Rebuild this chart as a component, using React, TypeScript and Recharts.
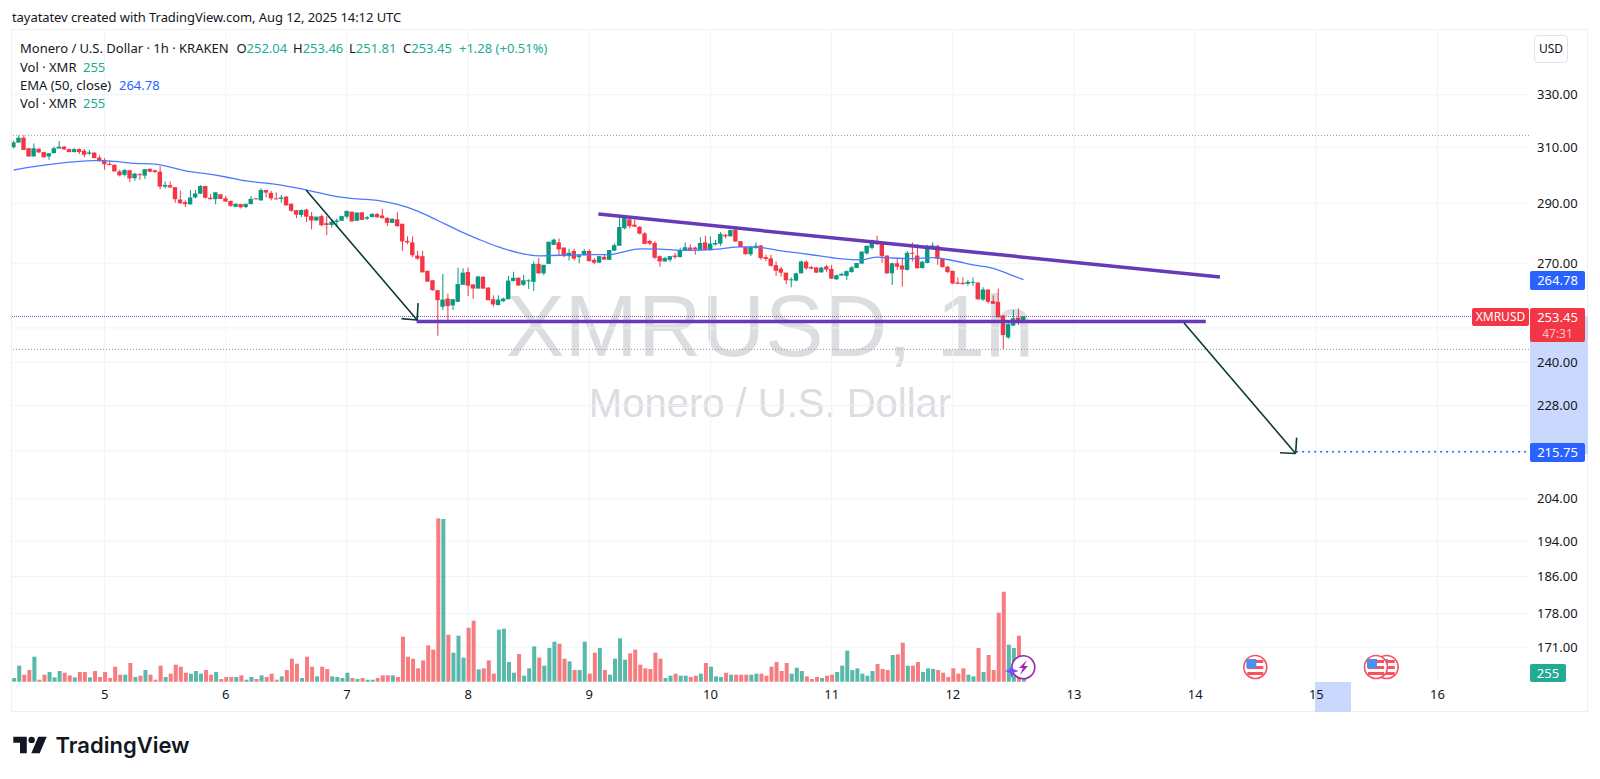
import React from "react";
import {
  Bar,
  CartesianGrid,
  ComposedChart,
  Line,
  ReferenceLine,
  XAxis,
  YAxis,
} from "recharts";

// hourly bars, first one is Aug 4 06:00 UTC
const opens = [
  310, 311.7, 313.5, 309.6, 306.6, 309.4, 308.2, 306.6, 307.8, 309.5,
  310.2, 309.3, 308.2, 309.3, 308.7, 307.6, 308, 306.2, 305.2, 303.9,
  303.6, 301.2, 300, 301.6, 298.8, 300.2, 299.7, 302.1, 301.6, 301.1,
  295.8, 296.3, 295.6, 291.3, 290.4, 289.6, 292, 293.3, 296, 291.9,
  291.4, 293.1, 291.7, 290.8, 288.8, 289.7, 288.7, 289.7, 291.7, 291,
  294.6, 293.6, 291.7, 291.5, 292.3, 289.8, 287.6, 286, 287.8, 285.6,
  284.1, 285.6, 283.2, 282.6, 283.6, 284, 285.4, 287.1, 284, 286.9,
  284.7, 285.3, 286.3, 285.8, 285, 283.3, 284.5, 283, 277.3, 276.8,
  272.5, 272.3, 267.6, 264.6, 261.5, 256.4, 258.9, 256.8, 257.9, 263.2,
  267.2, 263.3, 262, 265.7, 262.3, 258.7, 256.9, 258.1, 258.7, 264.4,
  265.4, 263.2, 264.4, 264.1, 269.8, 266.8, 269.8, 276, 276.8, 275.1,
  272.3, 274, 272, 272.6, 274, 271.1, 270.2, 272.1, 271.1, 274.1,
  275.7, 281.5, 284.5, 282.7, 282, 279.8, 277.3, 276.6, 272.3, 270.6,
  271.1, 272.5, 272, 274.3, 275.1, 275.1, 274.3, 276.8, 274.2, 276.1,
  276.4, 279.3, 278.8, 281, 277.2, 275.4, 272.9, 275.3, 275.8, 272,
  271.6, 269.4, 268.3, 267, 264.6, 264.5, 266.8, 270.5, 268.8, 268.7,
  267.1, 269, 268.2, 264.9, 266.1, 266, 267.2, 268.5, 269.9, 273.2,
  275, 277.3, 276.4, 272.5, 266.8, 270, 269.3, 267.9, 273.4, 272.5,
  268.5, 270.1, 275.4, 275.7, 271.5, 268.9, 267.6, 263.9, 263.8, 263.5,
  263.9, 263.9, 258.6, 261.7, 258.1, 257.9, 253.7, 247.2, 250.7, 253.1,
  252.04,
];
const highs = [
  312.4, 314.4, 314.4, 309.7, 311.4, 309.6, 308.2, 307.8, 310.2, 312.3,
  310.5, 309.5, 309.6, 309.6, 309.3, 309, 308.2, 307, 306, 305.2,
  303.6, 301.8, 302.1, 301.8, 300.6, 300.6, 302, 302.4, 301.8, 303,
  297.6, 297.6, 295.6, 294.4, 291, 294.6, 294.6, 296.3, 296.1, 293.2,
  293.8, 293.1, 292.5, 291, 290, 289.8, 289.8, 292.5, 291.7, 295.2,
  294.6, 294.3, 293.8, 292.9, 292.5, 290, 287.6, 287.8, 288.1, 287,
  285.4, 286.1, 285.6, 284.5, 284.8, 285.6, 287.4, 287.1, 286.8, 286.9,
  285.6, 286.7, 286.7, 288.1, 285.2, 284.8, 286.9, 283, 278.8, 278.8,
  274, 274, 267.6, 264.6, 261.5, 266.6, 260.4, 258.8, 268.6, 268.4,
  268.6, 263.4, 266, 265.8, 262.4, 259.9, 259.9, 259.2, 266, 267.3,
  265.5, 266.3, 264.9, 270.6, 271.7, 269.5, 277, 278.1, 278.1, 275.1,
  274.7, 274.7, 272.6, 274.7, 274.5, 271.7, 272.3, 272.7, 274.3, 276.4,
  285.3, 285.8, 284.7, 284.4, 282.2, 280.2, 277.7, 277.3, 272.5, 272,
  272.3, 273.4, 275.1, 276.8, 276.2, 275.4, 278.5, 279, 278.7, 277.6,
  280.2, 279.6, 280.9, 281.3, 277.2, 275.4, 275.7, 276.8, 275.9, 272.8,
  272.8, 270.6, 268.9, 267, 265.5, 267, 270.9, 270.9, 269.2, 268.7,
  268.9, 269.5, 269.5, 266.4, 267, 267.7, 269.2, 270.1, 273.8, 275.7,
  277.7, 279, 276.4, 272.5, 270.2, 271.7, 271.7, 274, 276.8, 276.2,
  270.8, 276, 276.8, 276, 271.7, 269.2, 267.6, 265.5, 265.5, 264.7,
  265.5, 263.9, 262.4, 261.7, 259.9, 262, 253.9, 251.4, 255.4, 255.9,
  253.46,
];
const lows = [
  309.5, 311.7, 309, 306.6, 306.6, 307.8, 306.3, 305.4, 307.8, 309.5,
  309, 308.2, 308.1, 307.5, 306.3, 307.2, 306, 304.8, 301.8, 303.4,
  301.2, 299.4, 299.4, 297.4, 297.9, 298.2, 298.5, 300.9, 300.6, 294.9,
  295.2, 295.4, 290.2, 289.8, 288.7, 289.6, 291.7, 293.2, 291.6, 291.3,
  289.6, 291.5, 290.5, 288.7, 288.7, 288.2, 288.3, 289.6, 291.4, 290.9,
  292, 291, 291.3, 290.2, 289.1, 287.1, 284.9, 285.3, 283.6, 281.1,
  284.1, 282.2, 279.2, 281.7, 282.2, 284, 284.7, 283.8, 284, 284.3,
  284.3, 285.1, 285.1, 284.8, 282.2, 283.3, 282, 274, 276.2, 272,
  271.1, 267.1, 264, 261.3, 247.7, 255.4, 252.4, 255.4, 257.9, 263.2,
  259.7, 258.8, 262, 262, 258.4, 256.4, 256.8, 257.9, 258.7, 264.2,
  262.8, 262.8, 261.9, 261.3, 266.6, 266.2, 269.8, 275.9, 272.3, 272,
  270.9, 270.9, 270, 272.5, 270.6, 269.7, 270.1, 271.1, 271.1, 274,
  275.7, 281.1, 281.5, 281.9, 279.4, 276.2, 275.9, 271.4, 268.9, 270.5,
  270.5, 271.4, 271.9, 274.3, 274.3, 272.8, 274.3, 274, 274.2, 275.8,
  275.7, 278.1, 278.8, 277, 275.1, 272.9, 272.3, 274.7, 271.1, 270.6,
  268.9, 266, 265.8, 263.4, 262.4, 264.3, 266.8, 267.9, 268.1, 267,
  267, 267.3, 265, 264.7, 266, 264.7, 267, 268.5, 269.9, 272.8,
  274.5, 276, 270.2, 266.6, 263.1, 267.9, 262.6, 267.7, 270.6, 268.4,
  268.3, 270, 274.5, 269.5, 268.6, 266.8, 263.4, 263.4, 263.2, 262.9,
  262.8, 258.4, 258.2, 257.4, 257.3, 253.1, 243.7, 246.8, 250.6, 250.9,
  251.81,
];
const closes = [
  311.8, 313.5, 309, 306.6, 309.6, 308.1, 306.3, 307.8, 309.6, 310.2,
  309.2, 308.2, 309.3, 308.2, 307.2, 308.1, 306, 304.8, 303.8, 303.5,
  301.2, 299.8, 301.7, 298.7, 300.4, 299.9, 302, 301.1, 301, 295.8,
  296.4, 295.5, 291.4, 290, 289.7, 292, 293.4, 296, 291.9, 291.4,
  293.8, 291.5, 290.6, 289.1, 289.8, 288.6, 289.8, 291.5, 291.4, 294.6,
  293.7, 291.7, 291.4, 292, 289.3, 287.4, 286.1, 287.7, 285.4, 284.1,
  285.4, 282.5, 282.6, 283.7, 284.1, 285.6, 287.4, 283.8, 286.8, 284.3,
  285.2, 286.3, 285.2, 284.9, 283.3, 284.7, 282.2, 277.1, 276.8, 272.6,
  271.5, 267.1, 264.2, 261.5, 258.4, 258.6, 256.6, 258.7, 263.4, 267,
  262.9, 262, 265.8, 262, 258.4, 257.1, 258.6, 258.9, 264.5, 265.4,
  263, 264.6, 264.6, 269.8, 266.8, 269.5, 277, 277.7, 274.5, 272.3,
  273.4, 271.5, 272.6, 274, 270.7, 270.2, 272.3, 271.2, 274.3, 275.9,
  281.9, 285.3, 282.2, 282, 279.7, 276.3, 276.4, 271.8, 270.6, 271.7,
  272.3, 272, 274.3, 275.2, 274.4, 274.6, 276.6, 274.3, 276.4, 276.6,
  279.6, 278.8, 280.9, 277.1, 275.3, 272.9, 275.4, 275.7, 271.7, 271.4,
  269.2, 267.6, 267, 264.6, 264.9, 266.8, 270.6, 268.4, 268.3, 267,
  268.6, 268, 265.1, 266.2, 266.6, 267.5, 268.7, 270.1, 273.8, 275.7,
  277.6, 276.2, 272.3, 266.8, 270, 268.9, 268, 273.4, 273.1, 268.4,
  270.5, 275.7, 275.8, 271.5, 268.8, 267.2, 263.6, 263.5, 263.4, 264.1,
  264.1, 258.7, 261.7, 257.9, 257.3, 253.2, 247.9, 251.2, 252.9, 252,
  253.45,
];
const volumes = [
  330, 1440, 630, 1050, 2250, 180, 630, 870, 390, 960,
  810, 570, 390, 870, 870, 390, 960, 420, 870, 330,
  1350, 630, 630, 1680, 420, 540, 1050, 630, 180, 1440,
  420, 720, 1530, 1350, 810, 720, 960, 720, 1050, 630,
  870, 240, 420, 420, 420, 570, 180, 420, 240, 570,
  420, 720, 180, 480, 1050, 2070, 1620, 330, 2250, 1350,
  480, 1350, 1140, 480, 420, 330, 810, 330, 240, 330,
  180, 180, 330, 570, 570, 570, 420, 4050, 2250, 2070,
  1200, 1920, 3270, 2880, 14700, 14640, 4230, 2610, 4140, 2160,
  4860, 5490, 1110, 1200, 1920, 720, 4680, 4770, 1770, 810,
  2490, 540, 1200, 3180, 2160, 1440, 3030, 3600, 3420, 2070,
  1830, 1050, 1050, 3600, 720, 2610, 3030, 1050, 630, 2070,
  3900, 1980, 2550, 2880, 1530, 1200, 1140, 2610, 2070, 330,
  540, 720, 540, 540, 420, 540, 720, 1680, 1350, 480,
  420, 810, 630, 630, 630, 630, 630, 720, 720, 540,
  1350, 1770, 960, 1680, 720, 1260, 960, 480, 240, 420,
  330, 540, 630, 870, 1440, 2790, 1050, 1200, 720, 540,
  960, 1590, 1140, 1050, 2400, 2460, 3510, 1440, 1440, 1770,
  870, 1200, 1140, 1050, 810, 420, 1200, 720, 1200, 630,
  480, 3030, 870, 2400, 1050, 6210, 8100, 3330, 3030, 4140,
  255,
];
const emaHours = [
  0, 4, 8, 13, 17, 20, 24, 28, 30, 34, 38, 42, 46, 50, 54, 58, 64, 68, 72, 76,
  80, 84, 88, 92, 96, 100, 104, 108, 114, 118, 120, 124, 128, 132, 136, 140,
  144, 148, 152, 156, 160, 164, 168, 171, 174, 178, 182, 186, 190, 194, 198, 200,
];
const emaValues = [
  301.7, 302.9, 303.9, 304.8, 305.2, 304.8, 304.1, 303.8, 303.2, 301.4, 300.4,
  299.2, 297.8, 297, 296, 294.6, 292.3, 291.5, 291, 289.6, 287.3, 284.1, 280.8,
  277.9, 275.3, 273.4, 272.4, 272.6, 272.8, 272.8, 273.4, 274.7, 274.6, 274.2,
  274.3, 274.7, 275.3, 275.1, 274, 273.2, 272.3, 271.4, 271.1, 272, 271.7,
  271.5, 271.8, 270.9, 269.5, 268.4, 266, 264.78,
];

const dayHours = [18, 42, 66, 90, 114, 138, 162, 186, 210, 234, 258, 282];
const dayLabels = ["5", "6", "7", "8", "9", "10", "11", "12", "13", "14", "15", "16"];
const priceTicks = [330, 310, 290, 270, 240, 228, 204, 194, 186, 178, 171];
const priceGrid = [330, 310, 290, 270, 250, 240, 228, 216, 204, 194, 186, 178, 171];

const bars = opens.map((o, i) => ({
  i,
  o,
  h: highs[i],
  l: lows[i],
  c: closes[i],
  v: volumes[i],
}));
const emaLine = emaHours.map((i, k) => ({ i, ema: emaValues[k] }));

const UP = "#089981";
const DOWN = "#f23645";
const FONT = "'Noto Sans', sans-serif";
const HOUR_DOMAIN: [number, number] = [-0.4, 300.12];
const PRICE_DOMAIN: [number, number] = [164.1, 356.7];

const candlePart = (props: any) => {
  const { x, y, width, height, payload } = props;
  return (
    <rect
      x={x}
      y={y}
      width={width}
      height={Math.max(height, 1)}
      fill={payload.c >= payload.o ? UP : DOWN}
    />
  );
};

const volumeBar = (props: any) => {
  const { x, y, width, height, payload } = props;
  return (
    <rect
      x={x}
      y={y}
      width={width}
      height={height}
      fill={payload.c >= payload.o ? "#58b8aa" : "#f67c7f"}
    />
  );
};

const box = (left: number, top: number, w: number, h: number, bg: string): React.CSSProperties => ({
  position: "absolute",
  left,
  top,
  width: w,
  height: h,
  background: bg,
  color: "#fff",
  fontFamily: FONT,
  fontSize: 13,
  lineHeight: `${h}px`,
  textAlign: "center",
  borderRadius: 2,
});

const legendText = (left: number, top: number, color: string): React.CSSProperties => ({
  position: "absolute",
  left,
  top: top - 9,
  color,
  fontFamily: FONT,
  fontSize: 13,
  lineHeight: "18px",
  whiteSpace: "nowrap",
});

const Flag = ({ cx, cy }: { cx: number; cy: number }) => (
  <g>
    <circle cx={cx} cy={cy} r={11.5} fill="#fff" stroke="#f7525f" strokeWidth={1.6} />
    <rect x={cx - 8} y={cy - 7} width={16} height={3} fill="#f7525f" />
    <rect x={cx - 8} y={cy - 1} width={16} height={3} fill="#f7525f" />
    <rect x={cx - 8} y={cy + 5} width={16} height={3} fill="#f7525f" />
    <rect x={cx - 9} y={cy - 8} width={10} height={9} fill="#4a90ee" />
  </g>
);

export default function App() {
  return (
    <div style={{ position: "absolute", left: 0, top: 0, width: 1600, height: 779, background: "#fff", overflow: "hidden" }}>
      <div style={{ ...legendText(12, 17, "#131722"), letterSpacing: -0.07 }}>
        tayatatev created with TradingView.com, Aug 12, 2025 14:12 UTC
      </div>
      <div style={{ position: "absolute", left: 11, top: 29, width: 1577, height: 683, border: "1px solid #eef0f5", boxSizing: "border-box" }} />
      {/* watermark */}
      <div style={{ position: "absolute", left: 470, width: 600, top: 276, textAlign: "center", fontFamily: "'Liberation Sans', sans-serif", fontSize: 88, lineHeight: "100px", color: "#dcdde0", whiteSpace: "nowrap" }}>
        XMRUSD, 1h
      </div>
      <div style={{ position: "absolute", left: 470, width: 600, top: 380, textAlign: "center", fontFamily: "'Liberation Sans', sans-serif", fontSize: 40, lineHeight: "46px", color: "#dcdde0", whiteSpace: "nowrap" }}>
        Monero / U.S. Dollar
      </div>
      {/* axis highlights sit under the chart so the labels stay on top */}
      <div style={{ position: "absolute", left: 1530, top: 316, width: 58, height: 138, background: "#c9d8fc" }} />
      <div style={{ position: "absolute", left: 1315, top: 682, width: 36, height: 30, background: "#c9d8fc" }} />

      <div style={{ position: "absolute", left: 0, top: 0 }}>
        <ComposedChart
          width={1600}
          height={779}
          data={bars}
          margin={{ top: 29.3, right: 12, bottom: 67.3, left: 11.7 }}
        >
          <CartesianGrid
            xAxisId="main"
            yAxisId="price"
            stroke="#f0f3fa"
            horizontalValues={priceGrid}
            verticalValues={dayHours}
          />
          <XAxis xAxisId="body" dataKey="i" type="number" domain={HOUR_DOMAIN} allowDataOverflow hide height={0} />
          <XAxis xAxisId="vol" dataKey="i" type="number" domain={HOUR_DOMAIN} allowDataOverflow hide height={0} />
          <XAxis
            xAxisId="main"
            dataKey="i"
            type="number"
            domain={HOUR_DOMAIN}
            allowDataOverflow
            ticks={dayHours}
            interval={0}
            height={30}
            axisLine={false}
            tickLine={false}
            tick={{ fill: "#131722", fontSize: 13, fontFamily: FONT }}
            tickFormatter={(v: number) => dayLabels[dayHours.indexOf(v)]}
          />
          <YAxis
            yAxisId="price"
            orientation="right"
            scale="log"
            domain={PRICE_DOMAIN}
            allowDataOverflow
            ticks={priceTicks}
            interval={0}
            width={59}
            axisLine={false}
            tickLine={false}
            tick={{ fill: "#131722", fontSize: 13, fontFamily: FONT }}
            tickFormatter={(v: number) => v.toFixed(2)}
          />
          <YAxis yAxisId="volume" orientation="left" domain={[0, 58716]} width={0} hide />

          <Bar
            xAxisId="vol"
            yAxisId="volume"
            dataKey="v"
            barSize={4}
            shape={volumeBar}
            isAnimationActive={false}
          />
          <Bar
            xAxisId="main"
            yAxisId="price"
            dataKey={(d: any) => [d.l, d.h]}
            barSize={1}
            shape={candlePart}
            isAnimationActive={false}
          />
          <Bar
            xAxisId="body"
            yAxisId="price"
            dataKey={(d: any) => [Math.min(d.o, d.c), Math.max(d.o, d.c)]}
            barSize={4.4}
            shape={candlePart}
            isAnimationActive={false}
          />
          <Line
            xAxisId="main"
            yAxisId="price"
            data={emaLine}
            dataKey="ema"
            type="monotone"
            stroke="#4a7bff"
            strokeWidth={1.3}
            dot={false}
            isAnimationActive={false}
          />

          {/* high / low / last price lines */}
          <ReferenceLine xAxisId="main" yAxisId="price" y={314.4} stroke="#9598a1" strokeDasharray="1 2" />
          <ReferenceLine xAxisId="main" yAxisId="price" y={243.7} stroke="#9598a1" strokeDasharray="1 2" />
          <ReferenceLine xAxisId="main" yAxisId="price" y={253.45} stroke="#2962ff" strokeDasharray="1 3" />
          <ReferenceLine xAxisId="main" yAxisId="price" y={253.45} stroke="#f23645" strokeDasharray="1 3" strokeDashoffset={2} />
          <ReferenceLine
            xAxisId="main"
            yAxisId="price"
            segment={[{ x: 254, y: 215.75 }, { x: 300.12, y: 215.75 }]}
            stroke="#2962ff"
            strokeWidth={1.5}
            strokeDasharray="2 4"
            ifOverflow="visible"
          />

          {/* drawn trend lines */}
          <ReferenceLine
            xAxisId="main"
            yAxisId="price"
            segment={[{ x: 115.8, y: 286.3 }, { x: 238.9, y: 265.6 }]}
            stroke="#673ab7"
            strokeWidth={3.5}
            ifOverflow="visible"
          />
          <ReferenceLine
            xAxisId="main"
            yAxisId="price"
            segment={[{ x: 79.8, y: 251.9 }, { x: 236.1, y: 251.9 }]}
            stroke="#673ab7"
            strokeWidth={3.5}
            ifOverflow="visible"
          />

          {/* arrows */}
          <ReferenceLine xAxisId="main" yAxisId="price" segment={[{ x: 57.9, y: 294.6 }, { x: 79.9, y: 252.4 }]} stroke="#0f3b35" strokeWidth={1.6} ifOverflow="visible" />
          <ReferenceLine xAxisId="main" yAxisId="price" segment={[{ x: 76.8, y: 252.8 }, { x: 79.9, y: 252.4 }]} stroke="#0f3b35" strokeWidth={1.6} ifOverflow="visible" />
          <ReferenceLine xAxisId="main" yAxisId="price" segment={[{ x: 80.1, y: 257.5 }, { x: 79.9, y: 252.4 }]} stroke="#0f3b35" strokeWidth={1.6} ifOverflow="visible" />
          <ReferenceLine xAxisId="main" yAxisId="price" segment={[{ x: 231.8, y: 251.5 }, { x: 253.9, y: 215.3 }]} stroke="#0f3b35" strokeWidth={1.6} ifOverflow="visible" />
          <ReferenceLine xAxisId="main" yAxisId="price" segment={[{ x: 250.8, y: 215.5 }, { x: 253.9, y: 215.3 }]} stroke="#0f3b35" strokeWidth={1.6} ifOverflow="visible" />
          <ReferenceLine xAxisId="main" yAxisId="price" segment={[{ x: 254.1, y: 219.4 }, { x: 253.9, y: 215.3 }]} stroke="#0f3b35" strokeWidth={1.6} ifOverflow="visible" />
        </ComposedChart>
      </div>

      {/* legend */}
      <div style={legendText(20, 47.7, "#131722")}>Monero / U.S. Dollar · 1h · KRAKEN</div>
      <div style={legendText(236.4, 47.7, "#131722")}>O<span style={{ color: "#22ab94" }}>252.04</span></div>
      <div style={legendText(293, 47.7, "#131722")}>H<span style={{ color: "#22ab94" }}>253.46</span></div>
      <div style={legendText(349, 47.7, "#131722")}>L<span style={{ color: "#22ab94" }}>251.81</span></div>
      <div style={legendText(403, 47.7, "#131722")}>C<span style={{ color: "#22ab94" }}>253.45</span></div>
      <div style={legendText(459, 47.7, "#22ab94")}>+1.28 (+0.51%)</div>
      <div style={legendText(20, 66.7, "#131722")}>Vol · XMR</div>
      <div style={legendText(83, 66.7, "#22ab94")}>255</div>
      <div style={legendText(20, 85, "#131722")}>EMA (50, close)</div>
      <div style={legendText(119, 85, "#2962ff")}>264.78</div>
      <div style={legendText(20, 103.3, "#131722")}>Vol · XMR</div>
      <div style={legendText(83, 103.3, "#22ab94")}>255</div>

      {/* right axis tags */}
      <div style={{ ...box(1534, 35, 34, 28, "#fff"), color: "#131722", border: "1px solid #e0e3eb", boxSizing: "border-box", borderRadius: 4, lineHeight: "26px", fontSize: 12 }}>USD</div>
      <div style={box(1530, 271, 55, 18.5, "#2962ff")}>264.78</div>
      <div style={{ ...box(1472, 307.5, 57, 18, "#f23645"), fontSize: 12 }}>XMRUSD</div>
      <div style={box(1530, 307.5, 55, 34.5, "#f23645")}>
        <div style={{ lineHeight: "18px" }}>253.45</div>
        <div style={{ lineHeight: "15px", fontSize: 12, color: "#fcc2c8" }}>47:31</div>
      </div>
      <div style={box(1530, 443, 55, 18.5, "#2962ff")}>215.75</div>
      <div style={box(1530, 663.5, 36, 18.5, "#22ab94")}>255</div>

      {/* event markers and logo */}
      <svg width={1600} height={779} style={{ position: "absolute", left: 0, top: 0 }}>
        <Flag cx={1255.3} cy={667} />
        <Flag cx={1386.7} cy={667} />
        <Flag cx={1376} cy={667} />
        <circle cx={1023.3} cy={667.3} r={11.5} fill="#fff" stroke="#9c27b0" strokeWidth={1.6} />
        <path d="M1027 660 L1019 668 L1023 668 L1020 675 L1028 666 L1024 666 Z" fill="#9c27b0" />
        <path d="M1011.7 664 L1013.5 669.2 L1018.7 671 L1013.5 672.8 L1011.7 678 L1009.9 672.8 L1004.7 671 L1009.9 669.2 Z" fill="#7b4dff" />
        <g transform="translate(13.3 736.7)" fill="#131722">
          <path d="M0 0H13.5V16.6H6.7V6H0Z" />
          <circle cx={18.3} cy={3.2} r={3.2} />
          <path d="M25 0H33.4L26.4 16.6H18Z" />
        </g>
      </svg>
      <div style={{ position: "absolute", left: 55.5, top: 731, fontFamily: "Inter, sans-serif", fontWeight: 600, fontSize: 22, lineHeight: "28px", color: "#131722", whiteSpace: "nowrap" }}>
        TradingView
      </div>
    </div>
  );
}
